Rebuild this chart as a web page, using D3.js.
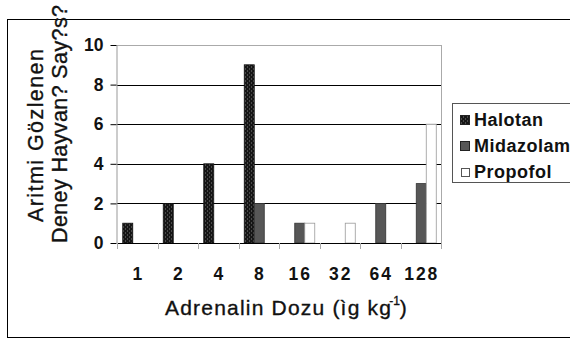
<!DOCTYPE html>
<html>
<head>
<meta charset="utf-8">
<script src="https://cdn.jsdelivr.net/npm/d3@7"></script>
<style>
  html, body { margin: 0; padding: 0; background: #fff; }
  svg { display: block; font-family: "Liberation Sans", Arial, sans-serif; }
</style>
</head>
<body>
<svg id="chart" width="570" height="342"></svg>
<script>
const categories = ["1", "2", "4", "8", "16", "32", "64", "128"];
const seriesNames = ["Halotan", "Midazolam", "Propofol"];
const halotan   = [1, 2, 4, 9, 0, 0, 0, 0];
const midazolam = [0, 0, 0, 2, 1, 0, 2, 3];
const propofol  = [0, 0, 0, 0, 1, 1, 0, 6];
const yTicks = [0, 2, 4, 6, 8, 10];
const yTitleLines = ["Aritmi Gözlenen", "Deney Hayvan? Say?s?"];
const xTitle = "Adrenalin Dozu (ìg kg";

const seriesValues = { Halotan: halotan, Midazolam: midazolam, Propofol: propofol };

const svg = d3.select("#chart");
const W = 570, H = 342;
const plot = { left: 117, right: 441, top: 45, bottom: 243 };

// pattern for Halotan
const defs = svg.append("defs");
const pat = defs.append("pattern").attr("id", "halo").attr("patternUnits", "userSpaceOnUse")
  .attr("width", 4).attr("height", 4);
pat.append("rect").attr("width", 4).attr("height", 4).attr("fill", "#161616");
pat.append("rect").attr("x", 1).attr("y", 0).attr("width", 1).attr("height", 2).attr("fill", "#4a4a4a");
pat.append("rect").attr("x", 3).attr("y", 2).attr("width", 1).attr("height", 2).attr("fill", "#4a4a4a");

const fills = { Halotan: "url(#halo)", Midazolam: "#575757", Propofol: "#ffffff" };
const strokes = { Halotan: "#111", Midazolam: "#333", Propofol: "#999" };

svg.append("rect").attr("width", W).attr("height", H).attr("fill", "#fff");

// outer frame
svg.append("rect").attr("x", 7.5).attr("y", 19.5).attr("width", 600).attr("height", 318)
  .attr("fill", "none").attr("stroke", "#000").attr("stroke-width", 1);

const x = d3.scaleBand().domain(categories).range([plot.left, plot.right]).paddingInner(0).paddingOuter(0);
const xs = d3.scaleBand().domain(seriesNames).range([x.bandwidth() * 0.142, x.bandwidth() * 0.883]);
const y = d3.scaleLinear().domain([0, 10]).range([plot.bottom, plot.top]);

// gridlines
svg.append("g").selectAll("line").data(yTicks.filter(d => d > 0)).join("line")
  .attr("x1", plot.left).attr("x2", plot.right)
  .attr("y1", d => Math.round(y(d)) + 0.5).attr("y2", d => Math.round(y(d)) + 0.5)
  .attr("stroke", d => d === 10 ? "#aaa" : "#000").attr("stroke-width", 1);

// right plot border
svg.append("line").attr("x1", plot.right + 0.5).attr("x2", plot.right + 0.5)
  .attr("y1", plot.top).attr("y2", plot.bottom).attr("stroke", "#aaa");

// bars
const rows = [];
categories.forEach((c, i) => seriesNames.forEach(s => {
  if (seriesValues[s][i] > 0) rows.push({ c, s, v: seriesValues[s][i] });
}));
svg.append("g").selectAll("rect").data(rows).join("rect")
  .attr("x", d => x(d.c) + xs(d.s))
  .attr("width", xs.bandwidth())
  .attr("y", d => y(d.v))
  .attr("height", d => y(0) - y(d.v))
  .attr("fill", d => fills[d.s])
  .attr("stroke", d => strokes[d.s])
  .attr("stroke-width", 0.8);

const heavy = sel => sel.attr("stroke", "#111").attr("stroke-width", 0.35).attr("paint-order", "stroke");

// y axis
const yAxis = svg.append("g").attr("transform", `translate(${plot.left - 0.5},0)`)
  .call(d3.axisLeft(y).tickValues(yTicks).tickSize(6).tickPadding(7).tickFormat(d3.format("d")));
yAxis.select(".domain").attr("stroke", "#999").attr("d", `M0.5,${plot.top}V${plot.bottom}`);
yAxis.selectAll(".tick line").attr("stroke", "#000");
yAxis.selectAll(".tick text").attr("font-size", 17.5).attr("font-weight", "bold")
  .attr("font-family", "Liberation Sans, Arial, sans-serif").attr("fill", "#111");

// x axis
const xAxis = svg.append("g").attr("transform", `translate(0,${plot.bottom + 0.5})`)
  .call(d3.axisBottom(x).tickSize(0).tickPadding(24));
xAxis.select(".domain").attr("stroke", "#000").attr("d", `M${plot.left},0H${plot.right}`);
xAxis.selectAll(".tick text").attr("font-size", 17.5).attr("font-weight", "bold")
  .attr("letter-spacing", "2px").attr("dx", "1px")
  .attr("font-family", "Liberation Sans, Arial, sans-serif").attr("fill", "#111");
// boundary ticks
const bounds = categories.map(c => x(c)).concat([plot.right]);
svg.append("g").selectAll("line").data(bounds).join("line")
  .attr("x1", d => Math.round(d) + 0.5).attr("x2", d => Math.round(d) + 0.5)
  .attr("y1", plot.bottom).attr("y2", plot.bottom + 6).attr("stroke", "#aaa");

// y title
const yt = svg.append("g");
yt.append("text").attr("transform", "translate(43,222) rotate(-90)")
  .attr("font-size", 21.5).attr("fill", "#111").call(heavy)
  .attr("textLength", 173).attr("lengthAdjust", "spacing").text(yTitleLines[0]);
yt.append("text").attr("transform", "translate(67,243) rotate(-90)")
  .attr("font-size", 21.5).attr("fill", "#111").call(heavy)
  .attr("textLength", 238).attr("lengthAdjust", "spacing").text(yTitleLines[1]);

// x title (superscript as tspan inside same text)
const xt = svg.append("text").attr("x", 165).attr("y", 315).attr("font-size", 21).attr("fill", "#111")
  .attr("letter-spacing", "1.2px").call(heavy);
xt.append("tspan").text(xTitle);
xt.append("tspan").attr("dx", -3).attr("dy", -10).attr("font-size", 12).attr("letter-spacing", "0px").text("-1");
xt.append("tspan").attr("dx", 0).attr("dy", 10).text(")");

// legend
const lg = svg.append("g");
lg.append("rect").attr("x", 452.5).attr("y", 103.5).attr("width", 140).attr("height", 79)
  .attr("fill", "#fff").attr("stroke", "#555");
const items = lg.selectAll("g.item").data(seriesNames).join("g").attr("class", "item")
  .attr("transform", (d, i) => `translate(0,${126 + i * 26})`);
items.append("rect").attr("x", d => d === "Propofol" ? 461.5 : 460.5)
  .attr("y", d => d === "Propofol" ? -9.5 : -10.5)
  .attr("width", d => d === "Propofol" ? 8 : 9).attr("height", d => d === "Propofol" ? 8 : 9)
  .attr("fill", d => fills[d]).attr("stroke", d => d === "Propofol" ? "#555" : "#222").attr("stroke-width", 1);
items.append("text").attr("x", 474).attr("y", 0).attr("font-size", 18).attr("font-weight", "bold")
  .attr("letter-spacing", "0.5px").attr("fill", "#111").text(d => d);
</script>
</body>
</html>
